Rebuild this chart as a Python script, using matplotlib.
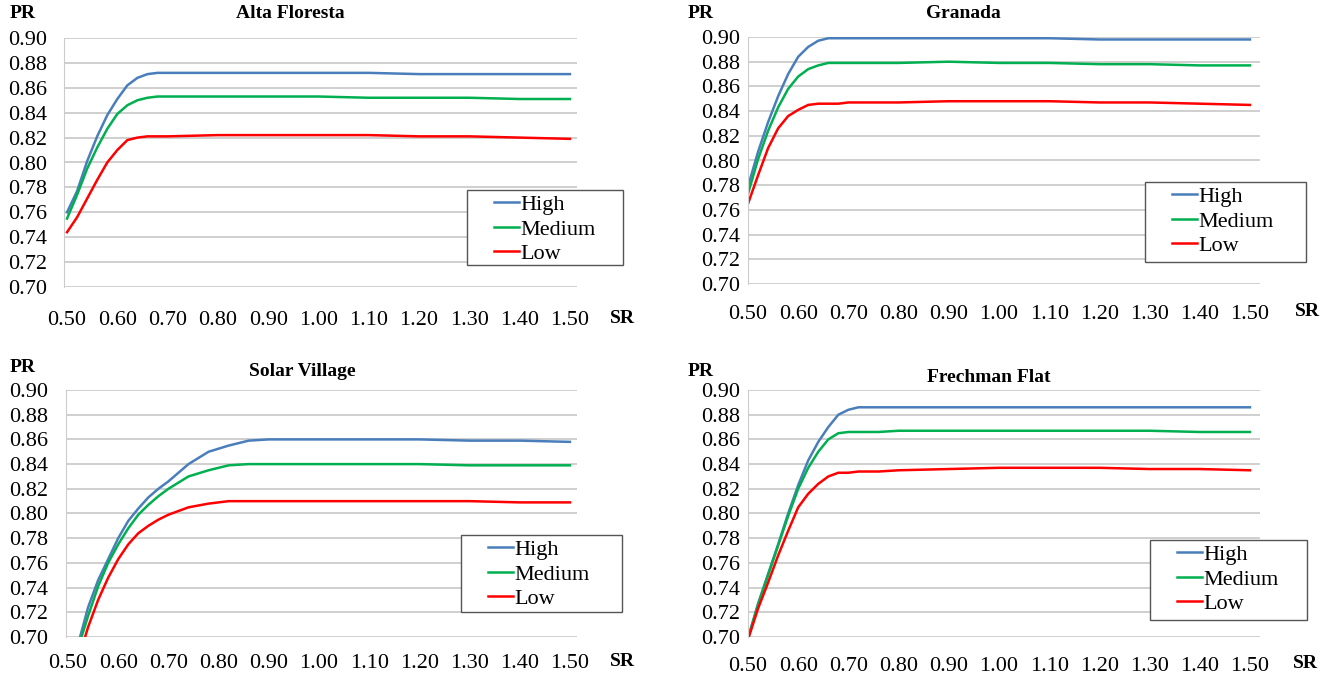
import matplotlib
matplotlib.use("Agg")
import matplotlib.pyplot as plt
from matplotlib.lines import Line2D
from matplotlib.legend_handler import HandlerLine2D
from matplotlib.patches import Rectangle

plt.rcParams['font.family'] = ['Liberation Serif', 'DejaVu Serif']

# Datos (SR vs PR) para cada localidad
series_names = ['High', 'Medium', 'Low']
series_colors = ['#4A7EBB', '#00B050', '#FF0000']

# Alta Floresta
af_sr = [0.50, 0.52, 0.54, 0.56, 0.58, 0.60, 0.62, 0.64, 0.66, 0.68, 0.70,
         0.80, 0.90, 1.00, 1.10, 1.20, 1.30, 1.40, 1.50]
af_high = [0.760, 0.777, 0.801, 0.821, 0.838, 0.851, 0.862, 0.868, 0.871, 0.872, 0.872,
           0.872, 0.872, 0.872, 0.872, 0.871, 0.871, 0.871, 0.871]
af_medium = [0.755, 0.774, 0.795, 0.812, 0.827, 0.839, 0.846, 0.850, 0.852, 0.853, 0.853,
             0.853, 0.853, 0.853, 0.852, 0.852, 0.852, 0.851, 0.851]
af_low = [0.744, 0.756, 0.771, 0.786, 0.800, 0.810, 0.818, 0.820, 0.821, 0.821, 0.821,
          0.822, 0.822, 0.822, 0.822, 0.821, 0.821, 0.820, 0.819]

# Granada
gr_sr = [0.50, 0.52, 0.54, 0.56, 0.58, 0.60, 0.62, 0.64, 0.66, 0.68, 0.70,
         0.80, 0.90, 1.00, 1.10, 1.20, 1.30, 1.40, 1.50]
gr_high = [0.779, 0.807, 0.831, 0.852, 0.870, 0.884, 0.892, 0.897, 0.899, 0.899, 0.899,
           0.899, 0.899, 0.899, 0.899, 0.898, 0.898, 0.898, 0.898]
gr_medium = [0.773, 0.801, 0.824, 0.843, 0.858, 0.868, 0.874, 0.877, 0.879, 0.879, 0.879,
             0.879, 0.880, 0.879, 0.879, 0.878, 0.878, 0.877, 0.877]
gr_low = [0.765, 0.788, 0.810, 0.826, 0.836, 0.841, 0.845, 0.846, 0.846, 0.846, 0.847,
          0.847, 0.848, 0.848, 0.848, 0.847, 0.847, 0.846, 0.845]

# Solar Village
sv_sr = [0.50, 0.52, 0.54, 0.56, 0.58, 0.60, 0.62, 0.64, 0.66, 0.68, 0.70,
         0.74, 0.78, 0.82, 0.86, 0.90, 1.00, 1.10, 1.20, 1.30, 1.40, 1.50]
sv_high = [0.665, 0.694, 0.724, 0.746, 0.763, 0.780, 0.794, 0.804, 0.813, 0.820, 0.826,
           0.840, 0.850, 0.855, 0.859, 0.860, 0.860, 0.860, 0.860, 0.859, 0.859, 0.858]
sv_medium = [0.664, 0.691, 0.717, 0.741, 0.760, 0.775, 0.788, 0.799, 0.807, 0.814, 0.820,
             0.830, 0.835, 0.839, 0.840, 0.840, 0.840, 0.840, 0.840, 0.839, 0.839, 0.839]
sv_low = [0.655, 0.681, 0.708, 0.730, 0.748, 0.763, 0.775, 0.784, 0.790, 0.795, 0.799,
          0.805, 0.808, 0.810, 0.810, 0.810, 0.810, 0.810, 0.810, 0.810, 0.809, 0.809]

# Frechman Flat
ff_sr = [0.50, 0.52, 0.54, 0.56, 0.58, 0.60, 0.62, 0.64, 0.66, 0.68, 0.70, 0.72,
         0.76, 0.80, 0.90, 1.00, 1.10, 1.20, 1.30, 1.40, 1.50]
ff_high = [0.699, 0.727, 0.751, 0.775, 0.800, 0.823, 0.843, 0.858, 0.870, 0.880, 0.884, 0.886,
           0.886, 0.886, 0.886, 0.886, 0.886, 0.886, 0.886, 0.886, 0.886]
ff_medium = [0.699, 0.726, 0.750, 0.774, 0.798, 0.820, 0.837, 0.850, 0.860, 0.865, 0.866, 0.866,
             0.866, 0.867, 0.867, 0.867, 0.867, 0.867, 0.867, 0.866, 0.866]
ff_low = [0.698, 0.723, 0.744, 0.766, 0.786, 0.805, 0.816, 0.824, 0.830, 0.833, 0.833, 0.834,
          0.834, 0.835, 0.836, 0.837, 0.837, 0.837, 0.836, 0.836, 0.835]

x_ticks = [0.50, 0.60, 0.70, 0.80, 0.90, 1.00, 1.10, 1.20, 1.30, 1.40, 1.50]
y_ticks = [0.70, 0.72, 0.74, 0.76, 0.78, 0.80, 0.82, 0.84, 0.86, 0.88, 0.90]

paneles = [
    ('Alta Floresta', af_sr, [af_high, af_medium, af_low]),
    ('Granada', gr_sr, [gr_high, gr_medium, gr_low]),
    ('Solar Village', sv_sr, [sv_high, sv_medium, sv_low]),
    ('Frechman Flat', ff_sr, [ff_high, ff_medium, ff_low]),
]

W, H = 1338, 676


def fx(px):
    return px / W


def fy(py):
    return 1 - py / H


# Ajustes de cada panel (en píxeles de la figura)
ejes_px = [(64, 38, 577, 287), (748, 37, 1260, 284), (66, 390, 577, 637), (748, 390, 1260, 637)]
xlims = [(0.494, 1.514), (0.50, 1.52), (0.496, 1.514), (0.50, 1.52)]
ypad = [12, 5.5, 13, 5.5]
xpad = [17, 15, 12, 14.5]
titulos_px = [(290, 14), (963, 14), (302, 372), (989, 377)]
pr_px = [(10, 14), (688, 14), (10, 368), (688, 372)]
sr_px = [(622, 318), (1307, 312), (622, 661), (1305, 664)]
leyenda_px = [(467, 190, 623, 265), (1145, 182, 1306, 262), (461, 535, 622, 612), (1150, 540, 1307, 620)]

fig = plt.figure(figsize=(13.38, 6.76), dpi=100)

for i, (nombre, sr, valores) in enumerate(paneles):
    x0, y0, x1, y1 = ejes_px[i]
    ax = fig.add_axes([fx(x0), fy(y1), (x1 - x0) / W, (y1 - y0) / H])
    for nom, col, vals in zip(series_names, series_colors, valores):
        ax.plot(sr, vals, color=col, lw=1.8, label=nom)

    ax.set_xlim(*xlims[i])
    ax.set_ylim(0.70, 0.90)
    ax.set_xticks(x_ticks)
    ax.set_yticks(y_ticks)
    ax.set_xticklabels([f'{v:.2f}' for v in x_ticks])
    ax.set_yticklabels([f'{v:.2f}' for v in y_ticks])
    ax.tick_params(axis='y', length=0, labelsize=16, pad=ypad[i])
    ax.tick_params(axis='x', length=0, labelsize=16, pad=xpad[i])

    # Cuadrícula horizontal gris claro
    ax.grid(True, axis='y', color='#cccccc', lw=1.3)
    ax.set_axisbelow(True)
    for lado in ['top', 'right', 'bottom']:
        ax.spines[lado].set_visible(False)
    ax.spines['left'].set_color('#cccccc')

    fig.text(fx(titulos_px[i][0]), fy(titulos_px[i][1]), nombre,
             ha='center', va='center', fontsize=14, fontweight='bold')
    fig.text(fx(pr_px[i][0]), fy(pr_px[i][1]), 'PR',
             ha='left', va='center', fontsize=14, fontweight='bold')
    fig.text(fx(sr_px[i][0]), fy(sr_px[i][1]), 'SR',
             ha='center', va='center', fontsize=14, fontweight='bold')

    # Recuadro de la leyenda (blanco con borde gris oscuro)
    lx0, ly0, lx1, ly1 = leyenda_px[i]
    ax.add_patch(Rectangle((fx(lx0), fy(ly1)), (lx1 - lx0) / W, (ly1 - ly0) / H,
                           transform=fig.transFigure, facecolor='white',
                           edgecolor='#555555', lw=1, clip_on=False, zorder=4))
    ax.legend(loc='upper left', bbox_to_anchor=(fx(lx0), fy(ly0 - 1)),
              bbox_transform=fig.transFigure, fontsize=16, frameon=False,
              handlelength=2.1, handletextpad=0.05, labelspacing=0.18,
              borderpad=0.25, borderaxespad=0,
              handler_map={Line2D: HandlerLine2D(xpad=0.95)})

fig.savefig('out.png', dpi=100)
